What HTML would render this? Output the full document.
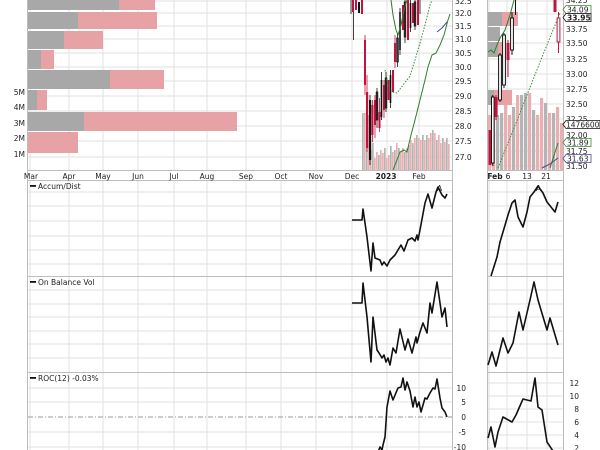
<!DOCTYPE html>
<html><head><meta charset="utf-8"><style>
html,body{margin:0;padding:0;background:#fff;}
svg{display:block;}
text{font-family:"DejaVu Sans","Liberation Sans",sans-serif;font-size:7.5px;fill:#222;}
</style></head><body>
<svg width="600" height="450" viewBox="0 0 600 450" xmlns="http://www.w3.org/2000/svg">
<rect width="600" height="450" fill="#fff"/>
<!-- GRID LEFT -->
<g stroke="#e2e2e2" stroke-width="1">
<path d="M30 0V170M69 0V170M103 0V170M138 0V170M174 0V170M207 0V170M246 0V170M281 0V170M316 0V170M352 0V170M387 0V170M419 0V170"/>
<path d="M30 180V450M69 180V450M103 180V450M138 180V450M174 180V450M207 180V450M246 180V450M281 180V450M316 180V450M352 180V450M387 180V450M419 180V450"/>
<path d="M27 1H452M27 13H452M27 26H452M27 39H452M27 53H452M27 67H452M27 81H452M27 96H452M27 111H452M27 126H452M27 141H452M27 157H452"/>
<path d="M27 192H452M27 206H452M27 221H452M27 236H452M27 250H452M27 264H452"/>
<path d="M27 290H452M27 304H452M27 317H452M27 331H452M27 344H452M27 358H452"/>
<path d="M27 388H452M27 402H452M27 432H452M27 447H452"/>
</g>
<!-- GRID RIGHT -->
<g stroke="#e2e2e2" stroke-width="1">
<path d="M489 0V170M507 0V170M527 0V170M547 0V170"/>
<path d="M489 180V450M507 180V450M527 180V450M547 180V450"/>
<path d="M487 1H563M487 14H563M487 29H563M487 43H563M487 59H563M487 74H563M487 89H563M487 104H563M487 119H563M487 135H563M487 151H563M487 166H563"/>
<path d="M487 192H563M487 206H563M487 221H563M487 236H563M487 250H563M487 264H563"/>
<path d="M487 290H563M487 304H563M487 317H563M487 331H563M487 344H563M487 358H563"/>
<path d="M487 383H563M487 396H563M487 409H563M487 422H563M487 435H563M487 448H563"/>
</g>
<!-- borders -->
<g stroke="#bdbdbd" stroke-width="1" fill="none">
<path d="M27.5 0V450M452.5 0V450M27 170.5H452M27 180.5H452M27 276.5H452M27 372.5H452"/>
<path d="M487.5 0V450M563.5 0V450M487 170.5H563M487 180.5H563M487 276.5H563M487 372.5H563"/>
</g>
<line x1="28" y1="417" x2="452" y2="417" stroke="#999" stroke-width="1" stroke-dasharray="5,2,1,2"/>

<!-- Volume by price LEFT -->
<g>
<rect x="28" y="0" width="91" height="10" fill="#a8a8a8"/><rect x="119" y="0" width="36" height="10" fill="#e6a2a5"/>
<rect x="28" y="12" width="50" height="17" fill="#a8a8a8"/><rect x="78" y="12" width="79" height="17" fill="#e6a2a5"/>
<rect x="28" y="31" width="36" height="18" fill="#a8a8a8"/><rect x="64" y="31" width="39" height="18" fill="#e6a2a5"/>
<rect x="28" y="50" width="13" height="19" fill="#a8a8a8"/><rect x="41" y="50" width="13" height="19" fill="#e6a2a5"/>
<rect x="28" y="70" width="82" height="19" fill="#a8a8a8"/><rect x="110" y="70" width="54" height="19" fill="#e6a2a5"/>
<rect x="28" y="90" width="9" height="20" fill="#a8a8a8"/><rect x="37" y="90" width="10" height="20" fill="#e6a2a5"/>
<rect x="28" y="112" width="56" height="19" fill="#a8a8a8"/><rect x="84" y="112" width="153" height="19" fill="#e6a2a5"/>
<rect x="28" y="132" width="50" height="21" fill="#e6a2a5"/>
</g>
<!-- vol axis labels -->
<g text-anchor="end">
<text x="25" y="95">5M</text><text x="25" y="110">4M</text><text x="25" y="126">3M</text><text x="25" y="141">2M</text><text x="25" y="157">1M</text>
</g>

<!-- Volume bars LEFT -->
<g>
<rect x="362" y="113" width="1.7" height="57" fill="#b4b4b4"/><rect x="364" y="113" width="1.7" height="57" fill="#e8b0b2"/>
<rect x="366" y="115" width="1.7" height="55" fill="#b4b4b4"/><rect x="368" y="115" width="1.7" height="55" fill="#e8b0b2"/>
<rect x="370" y="150" width="1.7" height="20" fill="#e8b0b2"/><rect x="372" y="143" width="1.7" height="27" fill="#b4b4b4"/>
<rect x="374" y="158" width="1.7" height="12" fill="#e8b0b2"/><rect x="376" y="152" width="1.7" height="18" fill="#e8b0b2"/>
<rect x="378" y="155" width="1.7" height="15" fill="#b4b4b4"/><rect x="380" y="150" width="1.7" height="20" fill="#e8b0b2"/>
<rect x="382" y="153" width="1.7" height="17" fill="#e8b0b2"/><rect x="384" y="148" width="1.7" height="22" fill="#b4b4b4"/>
<rect x="386" y="158" width="1.7" height="12" fill="#e8b0b2"/><rect x="388" y="155" width="1.7" height="15" fill="#e8b0b2"/>
<rect x="390" y="146" width="1.7" height="24" fill="#b4b4b4"/><rect x="392" y="152" width="1.7" height="18" fill="#e8b0b2"/>
<rect x="394" y="150" width="1.7" height="20" fill="#b4b4b4"/><rect x="396" y="143" width="1.7" height="27" fill="#e8b0b2"/>
<rect x="398" y="148" width="1.7" height="22" fill="#b4b4b4"/><rect x="400" y="152" width="1.7" height="18" fill="#e8b0b2"/>
<rect x="402" y="148" width="1.7" height="22" fill="#e8b0b2"/><rect x="404" y="152" width="1.7" height="18" fill="#b4b4b4"/>
<rect x="406" y="148" width="1.7" height="22" fill="#e8b0b2"/><rect x="408" y="145" width="1.7" height="25" fill="#b4b4b4"/>
<rect x="410" y="140" width="1.7" height="30" fill="#e8b0b2"/><rect x="412" y="143" width="1.7" height="27" fill="#b4b4b4"/>
<rect x="414" y="138" width="1.7" height="32" fill="#e8b0b2"/><rect x="416" y="135" width="1.7" height="35" fill="#b4b4b4"/>
<rect x="418" y="138" width="1.7" height="32" fill="#e8b0b2"/><rect x="420" y="140" width="1.7" height="30" fill="#e8b0b2"/>
<rect x="422" y="135" width="1.7" height="35" fill="#b4b4b4"/><rect x="424" y="140" width="1.7" height="30" fill="#e8b0b2"/>
<rect x="426" y="135" width="1.7" height="35" fill="#b4b4b4"/><rect x="428" y="138" width="1.7" height="32" fill="#e8b0b2"/>
<rect x="430" y="133" width="1.7" height="37" fill="#e8b0b2"/><rect x="432" y="130" width="1.7" height="40" fill="#b4b4b4"/>
<rect x="434" y="133" width="1.7" height="37" fill="#e8b0b2"/><rect x="436" y="140" width="1.7" height="30" fill="#b4b4b4"/>
<rect x="438" y="135" width="1.7" height="35" fill="#e8b0b2"/><rect x="440" y="143" width="1.7" height="27" fill="#e8b0b2"/>
<rect x="442" y="138" width="1.7" height="32" fill="#b4b4b4"/><rect x="444" y="142" width="1.7" height="28" fill="#e8b0b2"/>
<rect x="446" y="138" width="1.7" height="32" fill="#b4b4b4"/><rect x="448" y="144" width="1.7" height="26" fill="#e8b0b2"/>
</g>

<!-- Candles LEFT -->
<g stroke-width="0.8">
<line x1="351" y1="0" x2="351" y2="14" stroke="#111"/>
<line x1="353.5" y1="0" x2="353.5" y2="40" stroke="#111"/>
<rect x="352" y="0" width="2" height="12" fill="#c4123e"/>
<rect x="355" y="0" width="2" height="10" fill="#c4123e"/>
<rect x="358" y="2" width="2" height="11" fill="#111"/>
<rect x="361" y="0" width="2" height="14" fill="#c4123e"/>
<line x1="365" y1="35" x2="365" y2="95" stroke="#c4123e"/>
<rect x="364" y="40" width="2" height="45" fill="#c4123e"/>
<line x1="367" y1="75" x2="367" y2="152" stroke="#c4123e"/>
<rect x="366" y="92" width="2.2" height="56" fill="#c4123e"/>
<line x1="370" y1="95" x2="370" y2="165" stroke="#111"/>
<rect x="369" y="100" width="2.2" height="60" fill="#111"/>
<line x1="372.5" y1="100" x2="372.5" y2="142" stroke="#c4123e"/>
<rect x="371.5" y="105" width="2" height="30" fill="#c4123e"/>
<rect x="374" y="100" width="2" height="25" fill="#c4123e"/>
<line x1="375" y1="95" x2="375" y2="138" stroke="#c4123e"/>
<line x1="377" y1="88" x2="377" y2="128" stroke="#111"/>
<rect x="376.2" y="92" width="1.6" height="28" fill="none" stroke="#111"/>
<rect x="378.5" y="112" width="2" height="16" fill="#c4123e"/>
<line x1="379.5" y1="98" x2="379.5" y2="132" stroke="#c4123e"/>
<line x1="381.5" y1="72" x2="381.5" y2="120" stroke="#111"/>
<rect x="380.7" y="80" width="1.6" height="37" fill="#111"/>
<rect x="383" y="85" width="2" height="25" fill="#c4123e"/>
<line x1="384" y1="80" x2="384" y2="118" stroke="#c4123e"/>
<line x1="386" y1="72" x2="386" y2="112" stroke="#111"/>
<rect x="385.2" y="78" width="1.6" height="30" fill="none" stroke="#111"/>
<rect x="387.5" y="80" width="2" height="20" fill="#c4123e"/>
<line x1="390.5" y1="70" x2="390.5" y2="108" stroke="#111"/>
<rect x="389.7" y="75" width="1.6" height="28" fill="#111"/>
<rect x="392" y="70" width="2" height="22" fill="#c4123e"/>
<line x1="395" y1="35" x2="395" y2="68" stroke="#c4123e"/>
<rect x="394" y="43" width="2" height="19" fill="#c4123e"/>
<line x1="397.5" y1="33" x2="397.5" y2="67" stroke="#111"/>
<rect x="396.7" y="38" width="1.6" height="24" fill="none" stroke="#111"/>
<line x1="400" y1="8" x2="400" y2="55" stroke="#111"/>
<rect x="399.2" y="12" width="1.6" height="38" fill="#111"/>
<rect x="402" y="5" width="2" height="25" fill="#c4123e"/>
<line x1="405" y1="0" x2="405" y2="43" stroke="#111"/>
<rect x="404.2" y="2" width="1.6" height="35" fill="none" stroke="#111"/>
<rect x="407" y="0" width="2" height="40" fill="#c4123e"/>
<line x1="410.5" y1="0" x2="410.5" y2="32" stroke="#111"/>
<rect x="409.7" y="3" width="1.6" height="25" fill="#111"/>
<rect x="412" y="3" width="2" height="20" fill="#c4123e"/>
<line x1="415" y1="0" x2="415" y2="30" stroke="#111"/>
<rect x="414.2" y="2" width="1.6" height="24" fill="none" stroke="#111"/>
<rect x="417" y="0" width="2" height="25" fill="#c4123e"/>
<line x1="420" y1="0" x2="420" y2="14" stroke="#111"/>
</g>

<!-- MA lines LEFT -->
<g fill="none" stroke-width="1">
<polyline stroke="#2e7d2e" points="393,170 397,160 400,152 404,150 407,152 411,135 415,120 420,100 425,80 428,67 432,55 436,53 440,45 444,35 448,20 450,14"/>
<polyline stroke="#2e7d2e" points="391,0 393,15 396,30 398,35 401,25 404,10 407,0"/>
<polyline stroke="#3a8a3a" stroke-dasharray="1.5,1.5" points="385,70 388,85 392,92 397,93 403,85 410,76 415,60 420,43 425,25 430,5 432,0"/>
<polyline stroke="#4a4a8a" points="437,32 442,28 447,22"/>
</g>

<!-- price labels LEFT -->
<g>
<text x="455" y="4">32.5</text>
<text x="455" y="16">32.0</text><text x="455" y="29">31.5</text><text x="455" y="42">31.0</text>
<text x="455" y="56">30.5</text><text x="455" y="70">30.0</text><text x="455" y="84">29.5</text>
<text x="455" y="99">29.0</text><text x="455" y="114">28.5</text><text x="455" y="129">28.0</text>
<text x="455" y="144">27.5</text><text x="455" y="160">27.0</text>
</g>
<!-- x labels LEFT -->
<g text-anchor="middle">
<text x="31" y="179">Mar</text><text x="69" y="179">Apr</text><text x="103" y="179">May</text>
<text x="138" y="179">Jun</text><text x="174" y="179">Jul</text><text x="207" y="179">Aug</text>
<text x="246" y="179">Sep</text><text x="281" y="179">Oct</text><text x="316" y="179">Nov</text>
<text x="352" y="179">Dec</text><text x="386" y="179" font-weight="bold">2023</text><text x="419" y="179">Feb</text>
</g>

<!-- RIGHT chart volume by price -->
<g>
<rect x="488" y="12" width="14" height="14" fill="#a8a8a8"/><rect x="502" y="12" width="16" height="14" fill="#e6a2a5"/>
<rect x="488" y="27" width="12" height="14" fill="#a8a8a8"/>
<rect x="488" y="42" width="10" height="15" fill="#a8a8a8"/><rect x="498" y="42" width="5" height="15" fill="#e6a2a5"/>
<rect x="488" y="90" width="6" height="15" fill="#a8a8a8"/><rect x="494" y="90" width="18" height="15" fill="#e6a2a5"/>
</g>
<!-- RIGHT volume bars -->
<g>
<rect x="488" y="115" width="3.2" height="55" fill="#e8b0b2"/>
<rect x="492" y="105" width="3.2" height="65" fill="#e8b0b2"/>
<rect x="496" y="115" width="3.2" height="55" fill="#b4b4b4"/>
<rect x="500" y="113" width="3.2" height="57" fill="#b4b4b4"/>
<rect x="504" y="105" width="3.2" height="65" fill="#e8b0b2"/>
<rect x="508" y="115" width="3.2" height="55" fill="#e8b0b2"/>
<rect x="512" y="107" width="3.2" height="63" fill="#b4b4b4"/>
<rect x="516" y="95" width="3.2" height="75" fill="#e8b0b2"/>
<rect x="520" y="95" width="3.2" height="75" fill="#b4b4b4"/>
<rect x="524" y="93" width="3.2" height="77" fill="#b4b4b4"/>
<rect x="528" y="93" width="3.2" height="77" fill="#e8b0b2"/>
<rect x="532" y="110" width="3.2" height="60" fill="#b4b4b4"/>
<rect x="536" y="115" width="3.2" height="55" fill="#e8b0b2"/>
<rect x="540" y="98" width="3.2" height="72" fill="#e8b0b2"/>
<rect x="544" y="103" width="3.2" height="67" fill="#b4b4b4"/>
<rect x="548" y="113" width="3.2" height="57" fill="#e8b0b2"/>
<rect x="552" y="113" width="3.2" height="57" fill="#b4b4b4"/>
<rect x="556" y="107" width="3.2" height="63" fill="#e8b0b2"/>
<rect x="560" y="123" width="3" height="47" fill="#e8b0b2"/>
</g>
<!-- RIGHT candles -->
<g stroke-width="1">
<rect x="488.5" y="130" width="3" height="35" fill="#c4123e"/>
<line x1="492.8" y1="95" x2="492.8" y2="166" stroke="#111"/>
<rect x="491.5" y="97" width="2.6" height="66" fill="#fff" stroke="#111"/>
<line x1="496" y1="95" x2="496" y2="120" stroke="#c4123e"/>
<rect x="494.6" y="97" width="3" height="20" fill="#c4123e"/>
<line x1="500" y1="53" x2="500" y2="102" stroke="#111"/>
<rect x="498.6" y="55" width="2.8" height="45" fill="#fff" stroke="#111"/>
<line x1="504" y1="33" x2="504" y2="88" stroke="#111"/>
<rect x="502.6" y="35" width="2.8" height="50" fill="#fff" stroke="#111"/>
<line x1="508" y1="40" x2="508" y2="77" stroke="#c4123e"/>
<rect x="506.5" y="43" width="3" height="17" fill="#c4123e"/>
<line x1="512" y1="12" x2="512" y2="55" stroke="#111"/>
<rect x="510.6" y="18" width="2.8" height="32" fill="#fff" stroke="#111"/>
<line x1="515.5" y1="0" x2="515.5" y2="15" stroke="#111"/>
<rect x="553.5" y="0" width="3" height="12" fill="#c4123e"/>
<line x1="558.5" y1="12" x2="558.5" y2="53" stroke="#c4123e"/>
<rect x="557.1" y="18" width="2.8" height="24" fill="#fff" stroke="#c4123e"/>
</g>
<!-- RIGHT lines -->
<g fill="none" stroke-width="1">
<polyline stroke="#3a8a3a" stroke-dasharray="1.5,1.5" points="498,168 518,118 540,62 560,13"/>
<polyline stroke="#2e7d2e" points="488,52 491,50 494,53 497,45 500,38 505,30 510,15 514,0"/>
<polyline stroke="#2e7d2e" points="550,168 558,143"/>
<polyline stroke="#4a4a8a" points="542,168 550,164 558,158"/>
</g>
<!-- RIGHT price labels -->
<g>
<text x="566" y="3">34.25</text>
<text x="566" y="32">33.75</text><text x="566" y="46">33.50</text><text x="566" y="62">33.25</text>
<text x="566" y="77">33.00</text><text x="566" y="92">32.75</text><text x="566" y="107">32.50</text>
<text x="566" y="122">32.25</text><text x="566" y="138">32.00</text><text x="566" y="154">31.75</text>
<text x="566" y="169">31.50</text>
</g>
<!-- tag boxes -->
<g stroke-width="0.8">
<polygon points="563,9.5 566,5.5 591,5.5 591,13.5 566,13.5" fill="#fff" stroke="#3a8a3a"/>
<text x="567" y="12.5">34.09</text>
<polygon points="563,17.5 566,13.5 591,13.5 591,21.5 566,21.5" fill="#fff" stroke="#111"/>
<text x="567" y="20.5" font-weight="bold">33.95</text>
<polygon points="563,124.5 566,120.5 600,120.5 600,128.5 566,128.5" fill="#fff" stroke="#111"/>
<text x="566" y="127.5">1476600</text>
<polygon points="563,142.5 566,138.5 591,138.5 591,146.5 566,146.5" fill="#fff" stroke="#3a8a3a"/>
<text x="567" y="145.5">31.89</text>
<polygon points="563,158.5 566,154.5 591,154.5 591,162.5 566,162.5" fill="#fff" stroke="#4a4a8a"/>
<text x="567" y="161.5">31.63</text>
</g>
<!-- RIGHT x labels -->
<g text-anchor="middle">
<text x="495" y="179" font-weight="bold">Feb</text><text x="508" y="179">6</text>
<text x="527" y="179">13</text><text x="546" y="179">21</text>
</g>
<text x="437" y="191" font-size="6">A</text>
<text x="536" y="191" font-size="6">A</text>

<!-- indicator labels -->
<rect x="30" y="185" width="6" height="1.8" fill="#111"/><text x="38" y="189">Accum/Dist</text>
<rect x="30" y="281" width="6" height="1.8" fill="#111"/><text x="38" y="285">On Balance Vol</text>
<rect x="30" y="377" width="6" height="1.8" fill="#111"/><text x="38" y="381">ROC(12) -0.03%</text>

<!-- ROC labels -->
<g text-anchor="end">
<text x="466" y="391">10</text><text x="466" y="405">5</text><text x="466" y="420">0</text>
<text x="466" y="435">-5</text><text x="466" y="450">-10</text>
</g>
<g text-anchor="end">
<text x="579" y="386">12</text><text x="579" y="399">10</text><text x="579" y="412">8</text>
<text x="579" y="425">6</text><text x="579" y="438">4</text><text x="579" y="451">2</text>
</g>

<!-- indicator lines -->
<g fill="none" stroke="#111" stroke-width="1.6" stroke-linejoin="round">
<polyline points="352,220 362,220 363,209 367,237 371,271 373,243 375,258 380,260 382,265 384,262 387,266 390,260 393,257 395,255 398,250 401,245 404,251 408,240 412,238 415,241 417,235 418,240 420,230 425,203 428,194 432,208 436,192 438,187 442,195 445,198 447,194"/>
<polyline points="491,276 497,257 500,242 503,232 508,215 512,203 515,200 518,217 523,227 527,212 530,197 534,192 538,186 543,193 547,202 555,212 558,202"/>
<polyline points="352,303 362,303 363,283 367,317 371,362 373,317 377,350 379,353 382,358 384,355 386,362 388,358 390,365 393,348 396,353 400,329 405,350 408,339 412,353 416,337 417,343 420,332 423,323 427,333 430,303 432,313 437,282 442,317 445,308 447,327"/>
<polyline points="488,365 492,352 496,366 503,338 508,353 513,343 519,312 523,330 530,300 534,282 538,300 547,330 550,318 558,345"/>
<polyline points="378,452 380,447 382,450 383,445 385,437 387,407 390,391 393,400 398,388 401,387 403,378 405,390 407,382 410,391 413,407 415,397 417,407 419,402 421,412 425,398 427,399 430,393 433,388 435,389 437,379 440,398 442,408 445,412 447,417"/>
<polyline points="488,438 491,427 495,447 498,432 503,417 512,422 516,415 523,399 531,401 535,378 538,407 542,410 547,442 553,451"/>
</g>
</svg>
</body></html>
